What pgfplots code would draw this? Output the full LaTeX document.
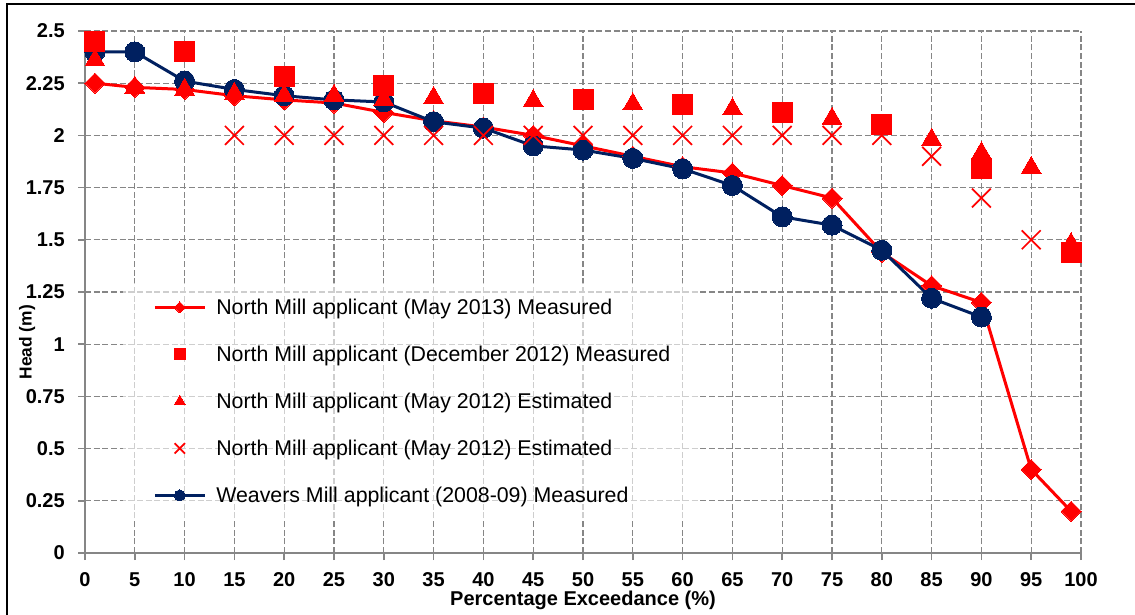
\documentclass[border=0pt]{standalone}
\usepackage{pgfplots}
\pgfplotsset{compat=1.18}
\usepackage{fontspec}
\setmainfont{Liberation Sans}
\definecolor{navy}{HTML}{002060}
\definecolor{gridgray}{HTML}{868686}
\pgfplotsset{
  limg/.style={legend image code/.code={\draw[mark repeat=2,mark phase=2,##1,fill opacity=1,draw opacity=1,every mark/.append style={scale=0.55}] plot coordinates {(0pt,0pt) (18.75pt,0pt) (37.5pt,0pt)};}},
}
\begin{document}
\begin{tikzpicture}
\path[use as bounding box] (-63.75pt,-45.75pt) rectangle (787.5pt,414.75pt);
\begin{axis}[
  at={(0,0)}, anchor=origin,
  scale only axis, width=747pt, height=391.5pt,
  xmin=0, xmax=100, ymin=0, ymax=2.5,
  clip=false,
  axis lines*=left,
  axis line style={gridgray, line width=1.5pt, -},
  xtick={0,5,10,15,20,25,30,35,40,45,50,55,60,65,70,75,80,85,90,95,100},
  xticklabels={0,5,10,15,20,25,30,35,40,45,50,55,60,65,70,75,80,85,90,95,100},
  ytick={0,0.25,0.5,0.75,1,1.25,1.5,1.75,2,2.25,2.5},
  yticklabels={0,0.25,0.5,0.75,1,1.25,1.5,1.75,2,2.25,2.5},
  tick align=outside,
  major tick length=5.25pt,
  tick style={gridgray, line width=1.2pt},
  grid=major,
  major grid style={gridgray, line width=1pt, dash pattern=on 4.5pt off 2pt},
  ticklabel style={font=\fontsize{15}{18}\selectfont\bfseries, inner sep=0pt},
  xticklabel style={anchor=north, yshift=-9pt},
  yticklabel style={anchor=east, xshift=-9.75pt},
  xlabel={Percentage Exceedance (\%)},
  xlabel style={at={(axis description cs:0.5,-0.1015)}, anchor=base, font=\fontsize{15}{18}\selectfont\bfseries, inner sep=0pt},
  ylabel={Head (m)},
  ylabel style={at={(axis description cs:-0.0582,0.404)}, anchor=center, font=\fontsize{13}{15}\selectfont\bfseries, inner sep=0pt},
  legend cell align=left,
  legend style={
    font=\fontsize{16}{19}\selectfont,
    draw=none, fill=white, fill opacity=0.6, text opacity=1,
    at={(axis description cs:0.0382,0.517)}, anchor=north west,
    inner xsep=22.5pt, inner ysep=11pt,
    row sep=21.25pt, column sep=7.5pt,
    nodes={inner sep=0pt, text height=12pt, text depth=2pt},
  },
]
% North Mill May 2013 Measured
\addplot[red, line width=2.25pt, mark=square*, mark size=5.3pt, mark options={rotate=45, fill=red, draw=red, line width=0pt}, limg] coordinates {
(1,2.25) (5,2.23) (10,2.22) (15,2.19) (20,2.17) (25,2.155) (30,2.11) (35,2.07) (40,2.04) (45,2.00) (50,1.95) (55,1.90) (60,1.85) (65,1.82) (70,1.76) (75,1.70) (80,1.44) (85,1.28) (90,1.20) (95,0.40) (99,0.20)
};
\addlegendentry{North Mill applicant (May 2013) Measured}
% Weavers Mill (drawn here, legend later)
\addplot[navy, line width=2.25pt, mark=*, mark size=7.5pt, mark options={fill=navy, draw=navy, line width=0pt}, forget plot] coordinates {
(1,2.40) (5,2.40) (10,2.26) (15,2.22) (20,2.19) (25,2.17) (30,2.16) (35,2.065) (40,2.035) (45,1.95) (50,1.93) (55,1.89) (60,1.84) (65,1.76) (70,1.61) (75,1.57) (80,1.45) (85,1.22) (90,1.13)
};
% North Mill December 2012 Measured
\addplot[red, only marks, mark=square*, mark size=7.5pt, mark options={fill=red, draw=red, line width=0pt}, limg] coordinates {
(1,2.45) (10,2.40) (20,2.28) (30,2.24) (40,2.20) (50,2.17) (60,2.15) (70,2.11) (80,2.05) (90,1.84) (99,1.44)
};
\addlegendentry{North Mill applicant (December 2012) Measured}
% North Mill May 2012 Estimated (triangles)
\addplot[red, only marks, mark=triangle*, mark size=8.5pt, mark options={fill=red, draw=red, line width=0pt}, limg] coordinates {
(1,2.36) (5,2.23) (10,2.22) (15,2.20) (20,2.19) (25,2.19) (30,2.17) (35,2.18) (40,2.18) (45,2.165) (50,2.16) (55,2.15) (60,2.14) (65,2.125) (70,2.10) (75,2.08) (80,2.04) (85,1.98) (90,1.915) (95,1.845) (99,1.48)
};
\addlegendentry{North Mill applicant (May 2012) Estimated}
% North Mill May 2012 Estimated (crosses)
\addplot[red, only marks, mark=x, mark size=10pt, mark options={draw=red, line width=1.3pt}, limg] coordinates {
(15,2) (20,2) (25,2) (30,2) (35,2) (40,2) (45,2) (50,2) (55,2) (60,2) (65,2) (70,2) (75,2) (80,2) (85,1.90) (90,1.70) (95,1.50)
};
\addlegendentry{North Mill applicant (May 2012) Estimated}
\addlegendimage{navy, line width=2.25pt, mark=*, mark size=7.5pt, mark options={fill=navy, draw=navy, line width=0pt}, limg}
\addlegendentry{Weavers Mill applicant (2008-09) Measured}
\end{axis}
\draw[line width=1.5pt] (-58.5pt,-50pt) -- (-58.5pt,411.75pt) -- (800pt,411.75pt);
\end{tikzpicture}
\end{document}
